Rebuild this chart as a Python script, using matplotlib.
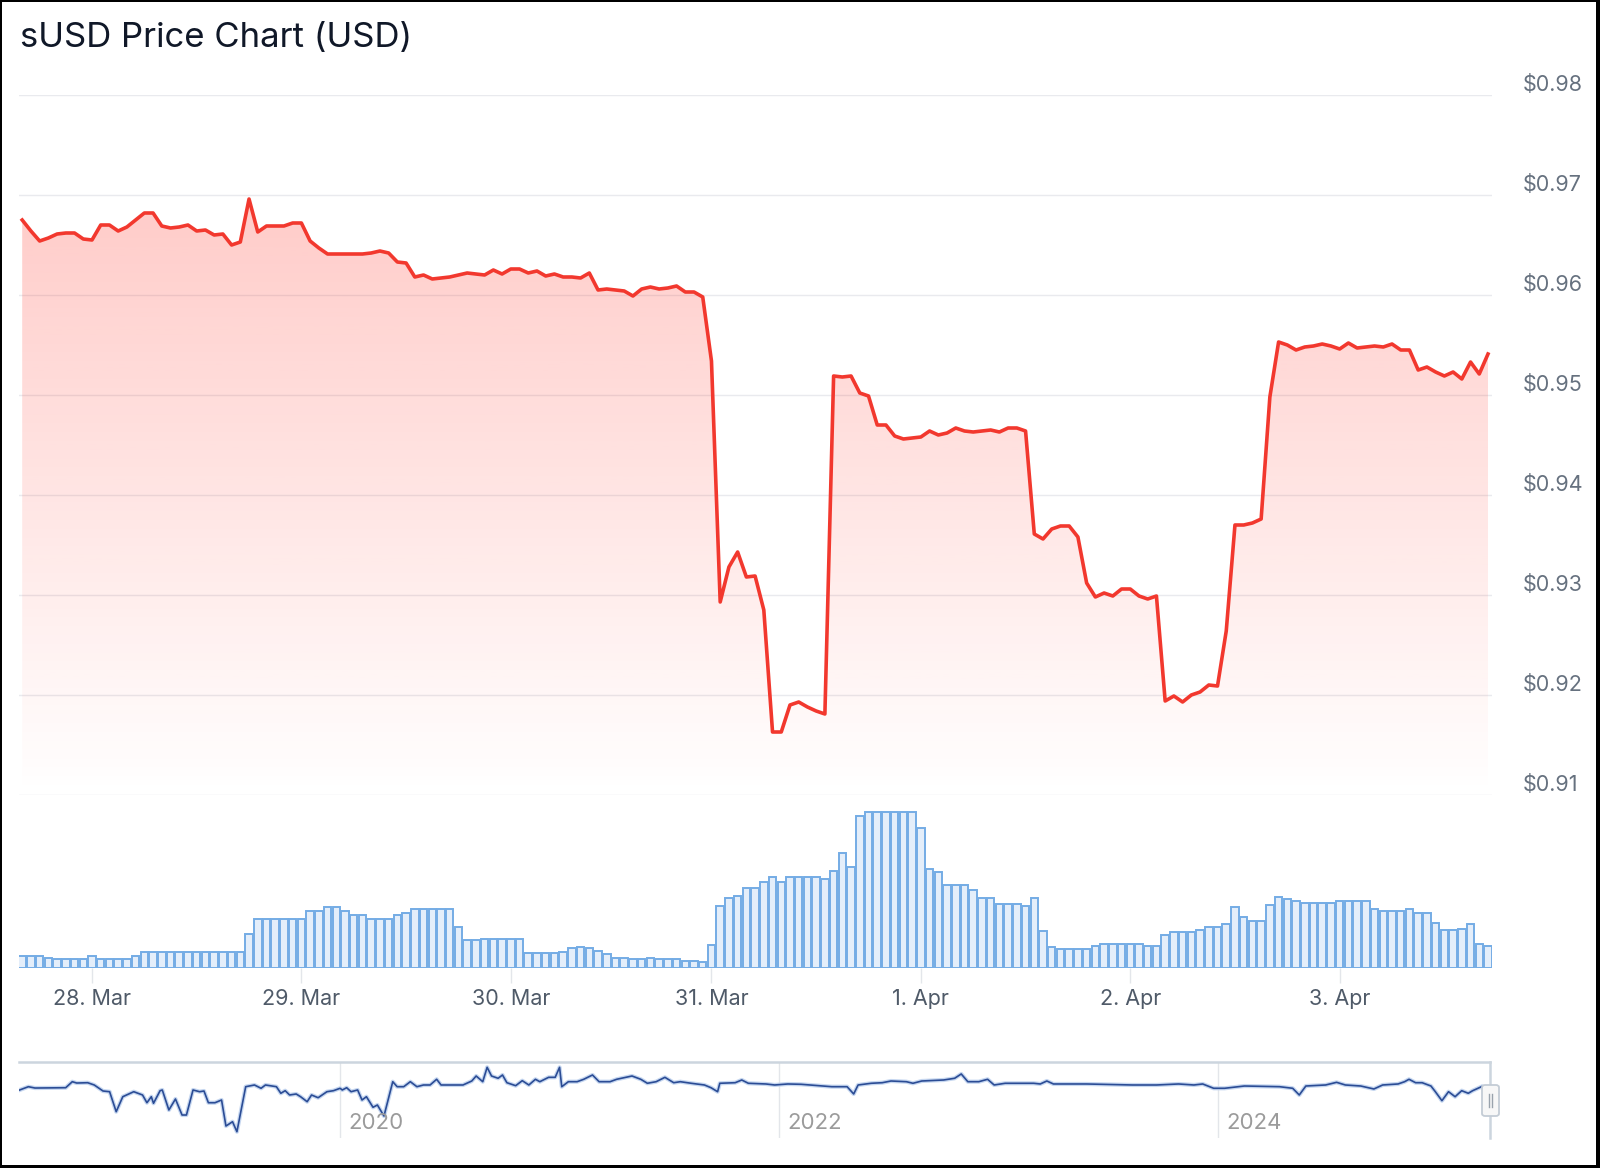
import numpy as np
import matplotlib.pyplot as plt
from matplotlib.patches import Polygon, Rectangle, FancyBboxPatch
from matplotlib.transforms import offset_copy

plt.rcParams['font.family'] = ['Inter', 'DejaVu Sans']

# hourly sUSD price, 27 Mar 16:00 -> 3 Apr 17:00
price = [
    0.9675, 0.9664, 0.9654, 0.9657, 0.9661, 0.9662, 0.9662, 0.9656, 0.9655, 0.9670,
    0.9670, 0.9664, 0.9668, 0.9675, 0.9682, 0.9682, 0.9669, 0.9667, 0.9668, 0.9670,
    0.9664, 0.9665, 0.9660, 0.9661, 0.9650, 0.9653, 0.9696, 0.9663, 0.9669, 0.9669,
    0.9669, 0.9672, 0.9672, 0.9654, 0.9647, 0.9641, 0.9641, 0.9641, 0.9641, 0.9641,
    0.9642, 0.9644, 0.9642, 0.9633, 0.9632, 0.9618, 0.9620, 0.9616, 0.9617, 0.9618,
    0.9620, 0.9622, 0.9621, 0.9620, 0.9625, 0.9621, 0.9626, 0.9626, 0.9622, 0.9624,
    0.9619, 0.9621, 0.9618, 0.9618, 0.9617, 0.9622, 0.9605, 0.9606, 0.9605, 0.9604,
    0.9599, 0.9606, 0.9608, 0.9606, 0.9607, 0.9609, 0.9603, 0.9603, 0.9598, 0.9534,
    0.9293, 0.9328, 0.9343, 0.9318, 0.9319, 0.9285, 0.9163, 0.9163, 0.9190, 0.9193,
    0.9188, 0.9184, 0.9181, 0.9519, 0.9518, 0.9519, 0.9502, 0.9499, 0.9470, 0.9470,
    0.9459, 0.9456, 0.9457, 0.9458, 0.9464, 0.9460, 0.9462, 0.9467, 0.9464, 0.9463,
    0.9464, 0.9465, 0.9463, 0.9467, 0.9467, 0.9464, 0.9361, 0.9356, 0.9366, 0.9369,
    0.9369, 0.9358, 0.9312, 0.9298, 0.9302, 0.9299, 0.9306, 0.9306, 0.9299, 0.9296,
    0.9299, 0.9194, 0.9199, 0.9193, 0.9200, 0.9203, 0.9210, 0.9209, 0.9264, 0.9370,
    0.9370, 0.9372, 0.9376, 0.9498, 0.9553, 0.9550, 0.9545, 0.9548, 0.9549, 0.9551,
    0.9549, 0.9546, 0.9552, 0.9547, 0.9548, 0.9549, 0.9548, 0.9551, 0.9545, 0.9545,
    0.9525, 0.9528, 0.9523, 0.9519, 0.9523, 0.9516, 0.9533, 0.9521, 0.9541,
]

# hourly volume (relative units)
volume = [
    11.7, 11.7, 11.7, 10.0, 9.3, 9.3, 9.3, 9.3, 11.7, 9.3,
    9.3, 9.3, 9.3, 11.7, 16.0, 16.0, 16.0, 16.0, 16.0, 16.0,
    16.0, 16.0, 16.0, 16.0, 16.0, 16.0, 33.7, 49.3, 49.3, 49.3,
    49.3, 49.3, 49.3, 57.0, 57.0, 61.0, 61.0, 57.0, 53.3, 53.3,
    49.3, 49.3, 49.3, 53.3, 55.0, 59.3, 59.3, 59.3, 59.3, 59.3,
    41.0, 27.7, 27.7, 29.3, 29.3, 29.3, 29.3, 29.0, 15.0, 15.0,
    15.0, 15.0, 16.0, 20.0, 21.0, 20.0, 17.0, 14.0, 10.0, 10.0,
    9.0, 9.0, 10.0, 9.0, 9.0, 9.0, 7.3, 7.3, 5.7, 23.3,
    62.3, 70.0, 72.0, 79.7, 79.7, 85.7, 91.3, 85.7, 91.3, 91.3,
    91.3, 91.3, 89.0, 97.3, 115.0, 101.3, 151.7, 155.7, 155.7, 155.7,
    155.7, 155.7, 155.7, 140.0, 99.0, 95.7, 83.3, 83.3, 83.3, 78.0,
    70.0, 70.0, 64.0, 64.0, 64.0, 62.3, 70.0, 36.7, 21.3, 19.0,
    19.0, 19.0, 19.0, 22.0, 24.0, 24.0, 24.0, 24.0, 24.0, 22.0,
    22.0, 33.0, 36.0, 36.0, 36.0, 37.7, 41.0, 41.0, 43.7, 61.0,
    51.0, 47.0, 47.0, 62.7, 71.0, 68.7, 66.7, 64.7, 64.7, 64.7,
    64.7, 66.7, 66.7, 66.7, 66.7, 58.7, 57.0, 57.0, 57.0, 58.7,
    55.0, 55.0, 45.0, 37.7, 37.7, 39.3, 43.7, 23.7, 21.7,
]

hours = np.arange(len(price))
day_ticks = [8, 32, 56, 79, 103, 127, 151]
day_labels = ['28. Mar', '29. Mar', '30. Mar', '31. Mar', '1. Apr', '2. Apr', '3. Apr']
price_ticks = [0.91, 0.92, 0.93, 0.94, 0.95, 0.96, 0.97, 0.98]

# long-term history for the navigator
nav_year = [
    2018.54, 2018.58, 2018.61, 2018.75, 2018.78, 2018.80, 2018.85, 2018.88, 2018.92, 2018.95,
    2018.98, 2019.01, 2019.06, 2019.10, 2019.12, 2019.14, 2019.15, 2019.18, 2019.19, 2019.22,
    2019.25, 2019.28, 2019.30, 2019.33, 2019.36, 2019.38, 2019.40, 2019.43, 2019.46, 2019.48,
    2019.51, 2019.53, 2019.57, 2019.61, 2019.64, 2019.66, 2019.71, 2019.73, 2019.75, 2019.77,
    2019.80, 2019.82, 2019.85, 2019.87, 2019.90, 2019.94, 2019.97, 2020.00, 2020.01, 2020.03,
    2020.05, 2020.08, 2020.10, 2020.12, 2020.15, 2020.17, 2020.20, 2020.24, 2020.26, 2020.29,
    2020.32, 2020.35, 2020.38, 2020.41, 2020.44, 2020.46, 2020.56, 2020.60, 2020.62, 2020.65,
    2020.67, 2020.69, 2020.72, 2020.74, 2020.76, 2020.80, 2020.83, 2020.86, 2020.89, 2020.91,
    2020.95, 2020.98, 2021.00, 2021.01, 2021.04, 2021.08, 2021.11, 2021.15, 2021.18, 2021.23,
    2021.26, 2021.33, 2021.37, 2021.40, 2021.44, 2021.48, 2021.52, 2021.55, 2021.60, 2021.66,
    2021.69, 2021.72, 2021.73, 2021.80, 2021.83, 2021.86, 2021.94, 2021.98, 2022.04, 2022.10,
    2022.24, 2022.31, 2022.34, 2022.36, 2022.42, 2022.47, 2022.51, 2022.58, 2022.61, 2022.65,
    2022.75, 2022.80, 2022.83, 2022.86, 2022.91, 2022.95, 2022.98, 2023.03, 2023.16, 2023.19,
    2023.22, 2023.25, 2023.40, 2023.61, 2023.72, 2023.82, 2023.89, 2023.93, 2023.98, 2024.03,
    2024.12, 2024.28, 2024.34, 2024.37, 2024.40, 2024.49, 2024.54, 2024.58, 2024.65, 2024.71,
    2024.75, 2024.82, 2024.85, 2024.87, 2024.90, 2024.93, 2024.97, 2024.99, 2025.02, 2025.05,
    2025.08, 2025.11, 2025.14, 2025.16, 2025.20,
]
nav_price = [
    0.9958, 1.0010, 0.9989, 0.9994, 1.0089, 1.0068, 1.0073, 1.0037, 0.9942, 0.9931,
    0.9615, 0.9852, 0.9931, 0.9879, 0.9757, 0.9852, 0.9748, 0.9947, 0.9958, 0.9642,
    0.9816, 0.9563, 0.9563, 0.9958, 0.9931, 0.9942, 0.9757, 0.9757, 0.9800, 0.9389,
    0.9457, 0.9299, 1.0010, 1.0037, 0.9985, 1.0037, 1.0010, 0.9906, 0.9947, 0.9879,
    0.9895, 0.9852, 0.9773, 0.9879, 0.9836, 0.9931, 0.9947, 0.9985, 0.9958, 0.9994,
    0.9931, 0.9958, 0.9800, 0.9852, 0.9685, 0.9721, 0.9547, 1.0089, 1.0010, 1.0010,
    1.0089, 1.0010, 1.0037, 1.0037, 1.0127, 1.0037, 1.0037, 1.0100, 1.0179, 1.0089,
    1.0316, 1.0179, 1.0143, 1.0195, 1.0073, 1.0026, 1.0105, 1.0037, 1.0127, 1.0089,
    1.0158, 1.0158, 1.0316, 1.0010, 1.0089, 1.0089, 1.0127, 1.0195, 1.0089, 1.0089,
    1.0127, 1.0179, 1.0127, 1.0064, 1.0089, 1.0158, 1.0073, 1.0089, 1.0064, 1.0037,
    0.9994, 0.9931, 1.0064, 1.0073, 1.0116, 1.0064, 1.0053, 1.0037, 1.0053, 1.0048,
    1.0010, 1.0010, 0.9895, 1.0037, 1.0064, 1.0073, 1.0100, 1.0089, 1.0064, 1.0100,
    1.0116, 1.0143, 1.0211, 1.0089, 1.0089, 1.0127, 1.0037, 1.0064, 1.0064, 1.0053,
    1.0100, 1.0053, 1.0053, 1.0037, 1.0037, 1.0053, 1.0037, 1.0053, 0.9985, 0.9985,
    1.0021, 1.0010, 0.9985, 0.9879, 1.0021, 1.0037, 1.0079, 1.0037, 1.0021, 0.9974,
    1.0037, 1.0053, 1.0089, 1.0127, 1.0073, 1.0073, 1.0021, 0.9931, 0.9789, 0.9931,
    0.9852, 0.9947, 0.9906, 0.9947, 1.0010,
]
nav_ticks = [2020, 2022, 2024]

W, H = 1600, 1168
fig = plt.figure(figsize=(W / 100, H / 100), dpi=100)


def box(x0, y0, x1, y1):
    # pixel box measured from the top-left corner
    return [x0 / W, 1 - y1 / H, (x1 - x0) / W, (y1 - y0) / H]


red = '#f2382e'
grid_c = '#e9eaee'

# --- price area ---
ax = fig.add_axes(box(19.4, 95, 1492, 795))
verts = [(hours[0], price_ticks[0])] + list(zip(hours, price)) + [(hours[-1], price_ticks[0])]
poly = Polygon(verts, closed=True, facecolor='none', edgecolor='none')
ax.add_patch(poly)
grad = np.zeros((256, 1, 4))
grad[..., 0] = 1.0
grad[..., 1] = 59 / 255
grad[..., 2] = 48 / 255
grad[:, 0, 3] = np.linspace(0.31, 0.0, 256)
im = ax.imshow(grad, extent=[hours[0], hours[-1], price_ticks[0], price_ticks[-1]],
               aspect='auto', origin='upper', zorder=1)
im.set_clip_path(poly)
ax.plot(hours, price, color=red, lw=2.6, zorder=3, solid_joinstyle='round')

ax.set_xlim(-0.32, 168.46)
ax.set_ylim(price_ticks[0], price_ticks[-1])
ax.set_yticks(price_ticks)
ax.grid(axis='y', color=grid_c, lw=1.0)
ax.set_axisbelow(True)
ax.tick_params(axis='both', length=0, labelbottom=False, labelleft=False)
for s in ax.spines.values():
    s.set_visible(False)
lab_tr = offset_copy(ax.get_yaxis_transform(), fig=fig, x=31, y=10, units='dots')
for v in price_ticks:
    ax.text(1.0, v, f'${v:.2f}', transform=lab_tr, ha='left', va='center',
            fontsize=15.5, color='#66717f')

# --- volume ---
axv = fig.add_axes(box(19.4, 795, 1492, 968))
axv.bar(hours, volume, width=0.86, color='#e4eefa', edgecolor='#74ace5', linewidth=1.4)
axv.set_xlim(-0.32, 168.46)
axv.set_ylim(0, 173)
axv.set_yticks([])
axv.set_xticks(day_ticks, day_labels)
axv.tick_params(axis='x', length=11, width=1, color='#e3e6ea', labelsize=15.5,
                labelcolor='#4f5a68', pad=4)
for s in axv.spines.values():
    s.set_visible(False)

# --- navigator ---
axn = fig.add_axes(box(19.4, 1062, 1490, 1138))
axn.plot(nav_year, nav_price, color='#c6d7f0', lw=3.0, solid_joinstyle='round')
axn.plot(nav_year, nav_price, color='#2b4c95', lw=1.2, solid_joinstyle='round')
axn.set_xlim(2018.539, 2025.239)
axn.set_ylim(0.92, 1.04)
axn.set_xticks(nav_ticks)
axn.set_yticks([])
axn.grid(axis='x', color='#e3e6ea', lw=1.0)
axn.tick_params(axis='x', length=0, labelbottom=False)
for name, s in axn.spines.items():
    s.set_visible(name in ('top', 'right'))
    s.set_color('#ccd5de')
    s.set_linewidth(1.8)
yr_tr = offset_copy(axn.get_xaxis_transform(), fig=fig, x=8, y=0, units='dots')
for yr in nav_ticks:
    axn.text(yr, 0.2, str(yr), transform=yr_tr, ha='left', va='center',
             fontsize=16, color='#9b9b9b')

# navigator handle
hx0, hy0, hx1, hy1 = 1482, 1085, 1499, 1116
fig.patches.append(FancyBboxPatch((hx0 / W, 1 - hy1 / H), (hx1 - hx0) / W, (hy1 - hy0) / H,
                                  boxstyle='round,pad=0,rounding_size=0.002',
                                  transform=fig.transFigure, facecolor='#f7f7f7',
                                  edgecolor='#c4ccd5', linewidth=1.3, zorder=5))
for gx in (1489, 1492):
    fig.lines.append(plt.Line2D([gx / W, gx / W], [1 - 1107 / H, 1 - 1094 / H],
                                transform=fig.transFigure, color='#9aa3ad', lw=1.0, zorder=6))

# --- title ---
fig.text(20 / W, 1 - 47.5 / H, 'sUSD Price Chart (USD)', fontsize=25, color='#101828',
         ha='left', va='baseline')

# black frame around the picture
for (x, y, w, h) in [(0, 0, 2, H), (0, 0, W, 2), (W - 4, 0, 4, H), (0, H - 3, W, 3)]:
    fig.patches.append(Rectangle((x / W, 1 - (y + h) / H), w / W, h / H,
                                 transform=fig.transFigure, facecolor='black',
                                 edgecolor='none', zorder=10))

fig.savefig('out.png', dpi=100)
